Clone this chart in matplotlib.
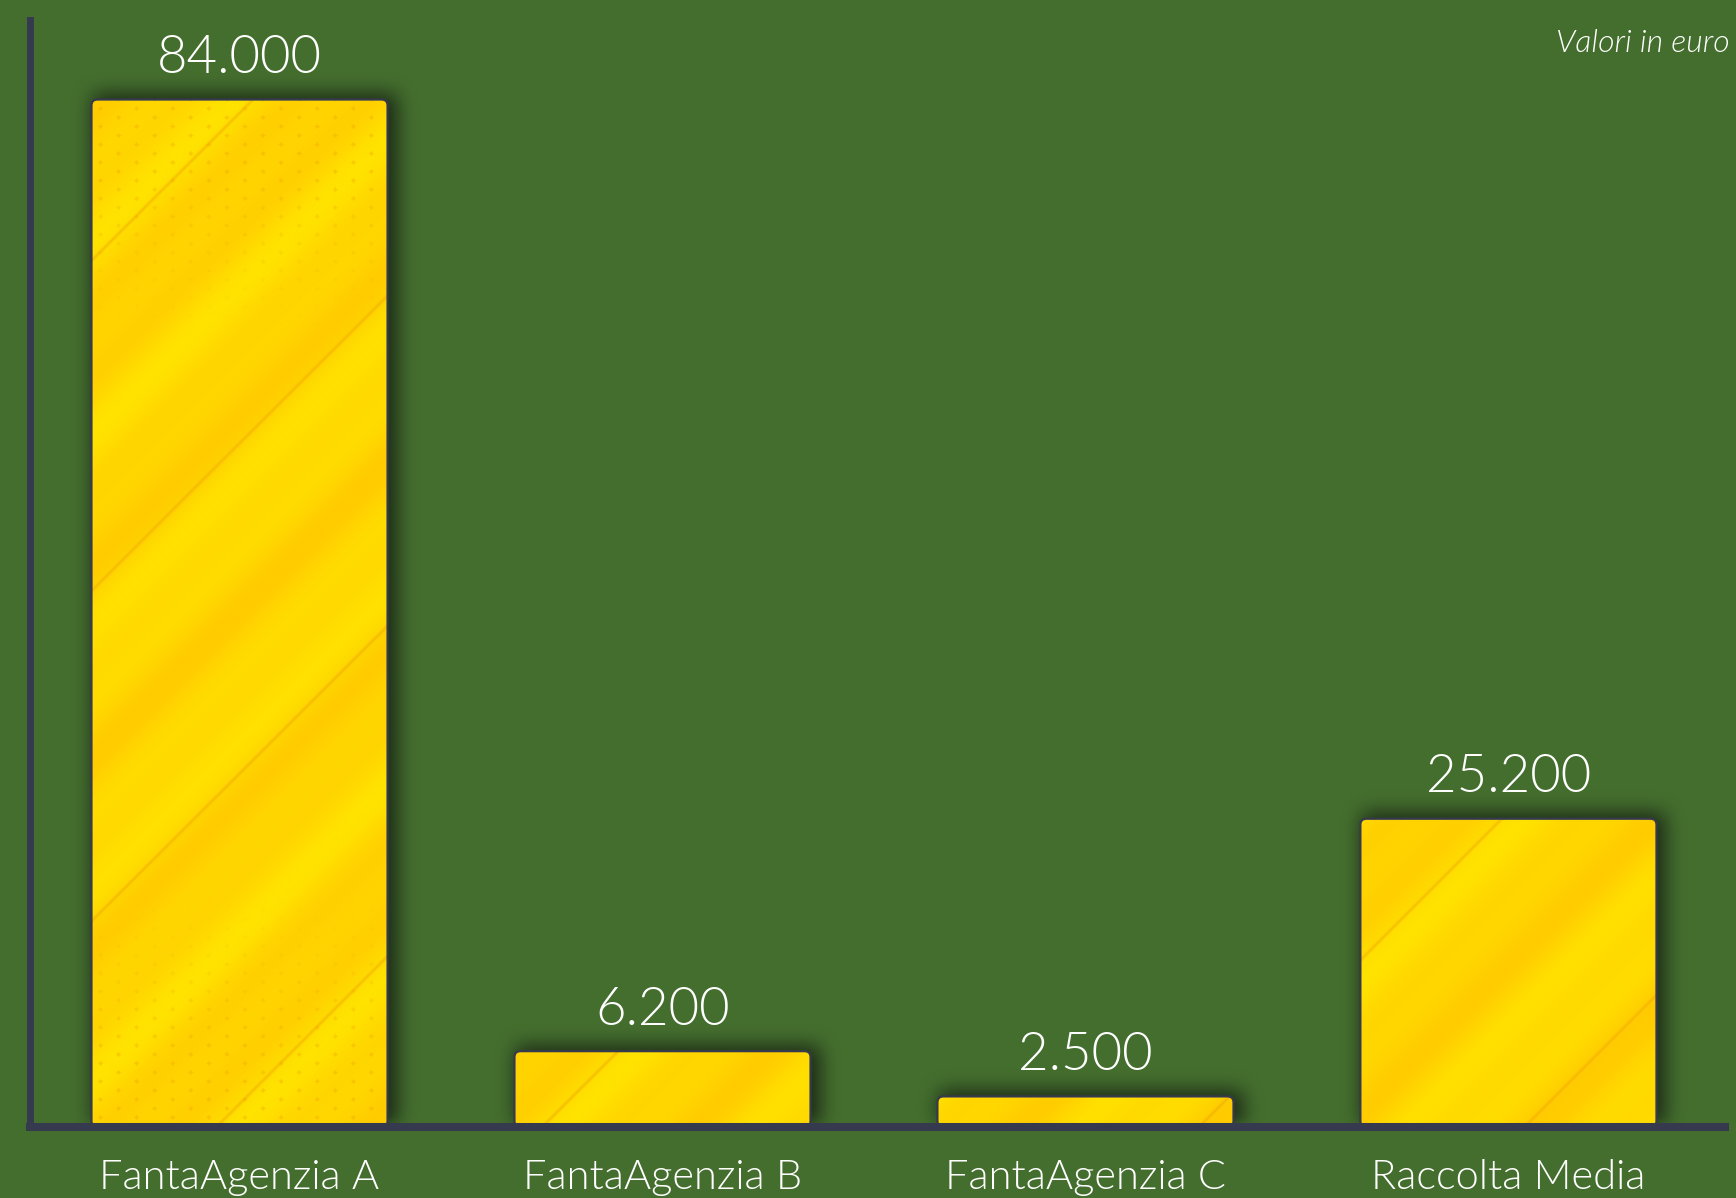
import numpy as np
import matplotlib
matplotlib.use("Agg")
import matplotlib.pyplot as plt
from matplotlib.patches import FancyBboxPatch

categorie = ["FantaAgenzia A", "FantaAgenzia B", "FantaAgenzia C", "Raccolta Media"]
valori = [84000, 6200, 2500, 25200]
etichette = ["84.000", "6.200", "2.500", "25.200"]

SFONDO = "#446E2E"
ASSI = "#363A4F"
GIALLO = np.array([255, 226, 0]) / 255
GIALLO_SCURO = np.array([255, 204, 0]) / 255
ARANCIO = np.array([240, 165, 0]) / 255

plt.rcParams['font.family'] = ['Lato', 'DejaVu Sans']

W, H = 1736, 1198
fig = plt.figure(figsize=(W / 100, H / 100), dpi=100, facecolor=SFONDO)
ax = fig.add_axes([29.5 / W, (H - 1127) / H, (1725 - 29.5) / W, (1127 - 20) / H])
ax.set_facecolor(SFONDO)
XLIM = (-0.4965, 3.512)
YLIM = (0, 90500)
ax.set_xlim(*XLIM)
ax.set_ylim(*YLIM)

larghezza = 0.70


def box(a, r, asse):
    pad = [(0, 0), (0, 0)]
    pad[asse] = (r + 1, r)
    c = np.cumsum(np.pad(a, pad), axis=asse)
    n = a.shape[asse]
    if asse == 0:
        return (c[2 * r + 1:2 * r + 1 + n] - c[:n]) / (2 * r + 1)
    return (c[:, 2 * r + 1:2 * r + 1 + n] - c[:, :n]) / (2 * r + 1)


def sfoca(a, r, passi=3):
    for _ in range(passi):
        a = box(box(a, r, 0), r, 1)
    return a


def texture(wpx, hpx, fase):
    x = np.arange(wpx)[None, :].astype(float)
    y = np.arange(hpx)[:, None].astype(float)
    u = x - y + fase
    b = 0.5 + 0.35 * np.sin(2 * np.pi * u / 210) + 0.2 * np.sin(2 * np.pi * u / 93 + 1.3)
    b = np.clip(b, 0, 1)[..., None]
    img = GIALLO * (1 - b) + GIALLO_SCURO * b
    # sottili righe arancioni
    r = (u + 40) % 330
    linea = np.exp(-((r - 165) / 2.2) ** 2)[..., None] * 0.5
    img = img * (1 - linea) + ARANCIO * linea
    # retino a puntini verso i bordi
    gx = (x % 18) - 9
    gy = ((y + 9 * ((x // 18) % 2)) % 18) - 9
    punto = (gx ** 2 + gy ** 2 < 5).astype(float)
    env = np.clip((np.abs(y - hpx / 2) - 280) / 160, 0, 1) * 0.35
    a = (punto * env)[..., None]
    img = img * (1 - a) + ARANCIO * a
    return np.clip(img, 0, 1)


# ombra sfumata dietro le barre
bb = ax.bbox
wax, hax = int(round(bb.width)), int(round(bb.height))
maschera = np.zeros((hax, wax))
for i, v in enumerate(valori):
    (px0, py0) = ax.transData.transform((i - larghezza / 2, 0)) - (bb.x0, bb.y0)
    (px1, py1) = ax.transData.transform((i + larghezza / 2, v)) - (bb.x0, bb.y0)
    maschera[max(int(py0), 0):int(py1) + 6, int(px0) + 2:int(px1) + 9] = 1
maschera = sfoca(maschera, 9)
ombra = np.zeros((hax, wax, 4))
ombra[..., 0] = 22 / 255
ombra[..., 1] = 32 / 255
ombra[..., 2] = 18 / 255
ombra[..., 3] = np.clip(maschera * 0.9, 0, 1)
ax.imshow(ombra, extent=(0, 1, 0, 1), transform=ax.transAxes, origin='lower',
          aspect='auto', zorder=1, interpolation='bilinear')

# scala pixel per arrotondare gli angoli senza deformarli
ux = ax.transData.transform((1, 0))[0] - ax.transData.transform((0, 0))[0]
uy = ax.transData.transform((0, 1000))[1] - ax.transData.transform((0, 0))[1]
aspetto = (1000 / uy) / (1 / ux)

for i, v in enumerate(valori):
    x0 = i - larghezza / 2
    sagoma = FancyBboxPatch((x0, 0), larghezza, v,
                            boxstyle="round,pad=0,rounding_size=%f" % (6 / ux),
                            mutation_aspect=aspetto,
                            facecolor='none', edgecolor='none', zorder=3)
    ax.add_patch(sagoma)
    wpx = int(round(larghezza * ux))
    hpx = max(int(round(v / 1000 * uy)), 2)
    im = ax.imshow(texture(wpx, hpx, 97 * i), extent=(x0, x0 + larghezza, 0, v),
                   origin='lower', aspect='auto', zorder=3, interpolation='bilinear')
    im.set_clip_path(sagoma)
    ax.add_patch(FancyBboxPatch((x0, 0), larghezza, v,
                                boxstyle="round,pad=0,rounding_size=%f" % (6 / ux),
                                mutation_aspect=aspetto,
                                facecolor='none', edgecolor=ASSI, linewidth=1.6, zorder=4))
    ax.annotate(etichette[i], (i, v), xytext=(0, 19), textcoords='offset points',
                ha='center', va='baseline', fontsize=38, fontweight=300,
                color='white', zorder=6)

ax.set_xlim(*XLIM)
ax.set_ylim(*YLIM)

for lato in ('top', 'right'):
    ax.spines[lato].set_visible(False)
ax.spines['left'].set_linewidth(5.0)
ax.spines['bottom'].set_linewidth(5.8)
for lato in ('left', 'bottom'):
    ax.spines[lato].set_color(ASSI)
    ax.spines[lato].set_zorder(5)
    ax.spines[lato].set_capstyle('projecting')

ax.set_yticks([])
ax.set_xticks(range(len(categorie)), categorie)
ax.tick_params(axis='x', length=0, pad=23, labelsize=30, labelcolor='white')
for t in ax.get_xticklabels():
    t.set_fontweight(300)

fig.text(1730 / W, 1 - 52 / H, "Valori in euro", ha='right', va='baseline',
         fontsize=23, style='italic', fontweight=300, color='white')

fig.savefig("out.png", dpi=100, facecolor=SFONDO)
